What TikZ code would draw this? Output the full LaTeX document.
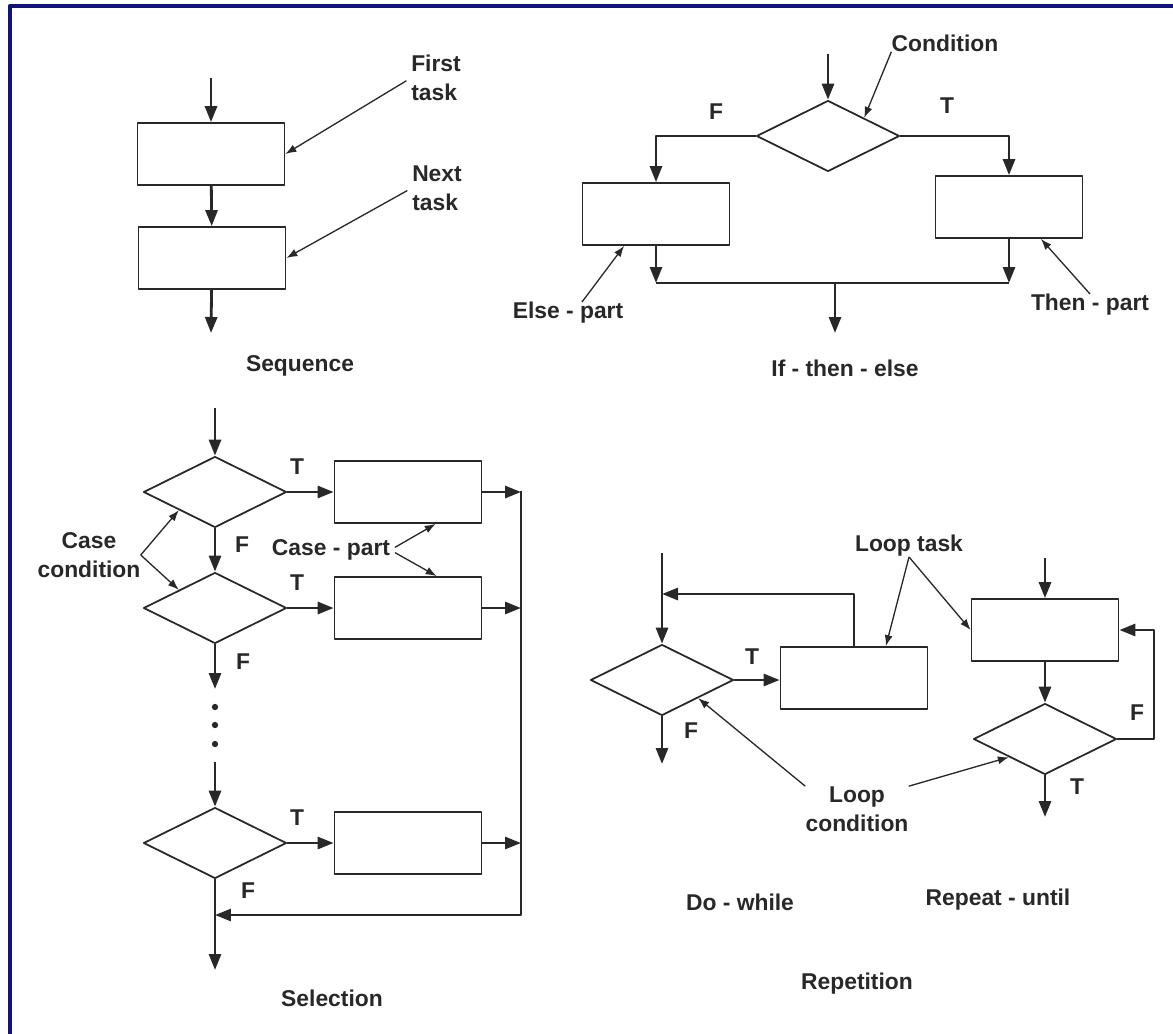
\documentclass[tikz,border=0pt]{standalone}
\usepackage{fontspec}
\setmainfont{Liberation Sans}
\usetikzlibrary{shapes.geometric,arrows.meta}
\definecolor{frameblue}{RGB}{18,18,125}
\definecolor{ink}{RGB}{40,40,40}
\begin{document}
\begin{tikzpicture}[x=0.02cm,y=-0.02cm,>={Triangle[length=3.2mm,width=2.4mm]},line join=round,
		font=\fontsize{13}{16.5}\selectfont\bfseries,
		task/.style={draw=ink,line width=1pt,minimum width=2.94cm,minimum height=1.24cm,inner sep=0},
		test/.style={draw=ink,line width=1pt,diamond,minimum width=2.86cm,minimum height=1.42cm,inner sep=0},
		flow/.style={ink,line width=1.6pt},
		note/.style={ink,line width=.75pt,-{Latex[length=2.2mm,width=1.6mm]}},
		lbl/.style={text=ink,inner sep=0}]
	\useasboundingbox[fill=white] (0,0) rectangle (1173,1034);
	\draw[frameblue,line width=2.5pt] (10,1034)--(10,6)--(1173,6);
	% sequence
	\node[task] (s1) at (211,154) {};
	\node[task] (s2) at (212,258) {};
	\coordinate (sin) at (211,78);
	\coordinate (sout) at (211,333);
	\draw[flow,->] (sin)--(s1);
	\draw[flow,->] (s1)--(s2);
	\draw[flow,->] (s2)--(sout);
	\node[lbl,align=left] (first) at (436,78) {First\\task};
	\node[lbl,align=left] (next) at (437,188) {Next\\task};
	\draw[note,shorten <=3pt] (first.west)--(s1.east);
	\draw[note,shorten <=3pt] (next.west)--(s2.east);
	\node[lbl] (seq) at (300,366) {Sequence};
	% if - then - else
	\node[test] (c) at (828,136) {};
	\node[task] (ep) at (656,214) {};
	\node[task] (tp) at (1009,207) {};
	\coordinate (cin) at (828,54);
	\coordinate (cmerge) at (835,283);
	\coordinate (cout) at (835,333);
	\draw[flow,->] (cin)--(c);
	\draw[flow,->] (c.west)-|(ep.north);
	\draw[flow,->] (c.east)-|(tp.north);
	\draw[flow,->] (ep.south)--(ep.south|-cmerge);
	\draw[flow,->] (tp.south)--(tp.south|-cmerge);
	\draw[flow] (ep.south|-cmerge)--(tp.south|-cmerge);
	\draw[flow,->] (cmerge)--(cout);
	\node[lbl] (cf) at (716,112) {F};
	\node[lbl] (ct) at (947,106) {T};
	\node[lbl] (cond) at (945,43) {Condition};
	\draw[note] (cond.south west)--(c.north east);
	\node[lbl] (else) at (568,313) {Else - part};
	\draw[note] ([xshift=0.28cm]else.north)--(ep.225);
	\node[lbl] (then) at (1090,305) {Then - part};
	\draw[note] (then.north)--(tp.315);
	\node[lbl] (ite) at (845,368) {If - then - else};
	% selection
	\coordinate (rtop) at (521,491);
	\coordinate (rbot) at (521,915);
	\foreach \n/\y in {1/492,2/608,3/843}{
		\node[test] (d\n) at (215,\y) {};
		\node[task] (k\n) at (408,\y) {};
		\draw[flow,->] (d\n.east)--(k\n.west);
		\draw[flow,->] (k\n.east)--(k\n.east-|rtop);
		\node[lbl] (t\n) at (297,\y-25) {T};
	}
	\coordinate (din) at (215,408);
	\coordinate (dgap) at (215,689);
	\coordinate (dback) at (215,762);
	\coordinate (dout) at (215,970);
	\draw[flow,->] (din)--(d1);
	\draw[flow,->] (d1)--(d2);
	\draw[flow,->] (d2)--(dgap);
	\foreach \y in {707,725,744}
		\fill[ink] (215,\y) circle (1.8pt);
	\draw[flow,->] (dback)--(d3);
	\draw[flow,->] (d3)--(dout);
	\draw[flow,->] (rtop)--(rbot)--(rbot-|d3.south);
	\node[lbl] (f1) at (242,545) {F};
	\node[lbl] (f2) at (243,662) {F};
	\node[lbl] (f3) at (248,891) {F};
	\node[lbl,align=center] (casec) at (89,555) {Case\\condition};
	\draw[note] (casec.east)--(d1.south west);
	\draw[note] (casec.east)--(d2.north west);
	\node[lbl] (casep) at (331,550) {Case - part};
	\draw[note,shorten <=3pt] (casep.east)--(k1.311);
	\draw[note,shorten <=3pt] (casep.east)--(k2.48);
	\node[lbl] (sel) at (332,998) {Selection};
	% do - while
	\node[test] (w) at (662,680) {};
	\node[task] (wt) at (854,678) {};
	\coordinate (win) at (662,553);
	\coordinate (wback) at (662,594);
	\coordinate (wout) at (662,764);
	\draw[flow,->] (win)--(w);
	\draw[flow,->] (wt.north)|-(wback);
	\draw[flow,->] (w.east)--(w.east-|wt.west);
	\draw[flow,->] (w.south)--(wout);
	\node[lbl] (wtl) at (752,657) {T};
	\node[lbl] (wfl) at (691,731) {F};
	% repeat - until
	\node[task] (rt) at (1045,630) {};
	\node[test] (r) at (1045,739) {};
	\coordinate (rin) at (1045,558);
	\coordinate (rloop) at (1154,700);
	\coordinate (rout) at (1045,817);
	\draw[flow,->] (rin)--(rt);
	\draw[flow,->] (rt)--(r);
	\draw[flow,->] (r.east)-|(rloop)|-(rt.east);
	\draw[flow,->] (r.south)--(rout);
	\node[lbl] (rfl) at (1137,713) {F};
	\node[lbl] (rtl) at (1077,787) {T};
	\node[lbl] (loopt) at (909,546) {Loop task};
	\draw[note] (loopt.south)--(wt.45);
	\draw[note] (loopt.south)--(rt.west);
	\node[lbl,align=center] (loopc) at (857,809) {Loop\\condition};
	\draw[note] (loopc.north west)--(w.south east);
	\draw[note] (loopc.north east)--(r.south west);
	\node[lbl] (dw) at (740,902) {Do - while};
	\node[lbl] (ru) at (998,900) {Repeat - until};
	\node[lbl] (rep) at (857,984) {Repetition};
\end{tikzpicture}
\end{document}
